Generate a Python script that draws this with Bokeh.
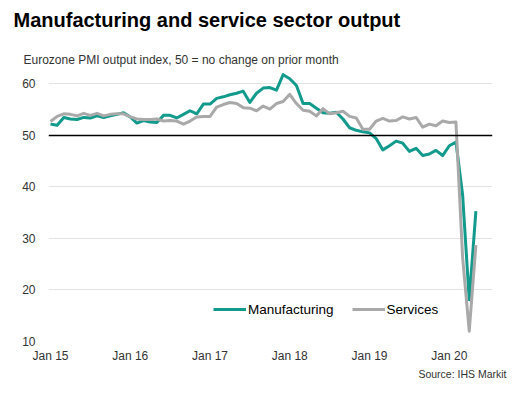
from bokeh.plotting import figure
from bokeh.models import Legend, LegendItem, FixedTicker, Span, ColumnDataSource, Title
from bokeh.embed import file_html
from bokeh.resources import INLINE

# ---- data (monthly, Jan 2015 .. May 2020) ----
months = list(range(65))
manufacturing = [
    52.2, 52.0, 53.5, 53.2, 53.1, 53.5, 53.4, 53.8, 53.5, 53.8, 54.1, 54.4,   # 2015
    53.6, 52.4, 52.9, 52.6, 52.5, 53.9, 53.9, 53.4, 54.1, 54.8, 54.2, 56.1,   # 2016
    56.1, 57.2, 57.5, 57.9, 58.2, 58.6, 56.4, 58.2, 59.2, 59.3, 58.8, 61.8,   # 2017
    61.0, 59.7, 56.2, 56.2, 55.3, 54.4, 54.3, 54.5, 53.2, 51.5, 51.0, 50.7,   # 2018
    50.5, 49.4, 47.2, 48.0, 48.9, 48.5, 46.9, 47.5, 46.1, 46.4, 47.1, 46.1,   # 2019
    48.0, 48.7, 38.5, 18.1, 35.3,                                             # 2020
]
services = [
    52.7, 53.7, 54.2, 54.1, 53.8, 54.3, 53.9, 54.3, 53.8, 54.1, 54.2, 54.2,
    53.6, 53.2, 53.1, 53.1, 53.2, 52.8, 52.9, 52.8, 52.2, 52.8, 53.6, 53.7,
    53.7, 55.5, 56.0, 56.4, 56.2, 55.4, 55.3, 54.8, 55.7, 55.1, 56.2, 56.6,
    58.0, 56.2, 54.9, 54.7, 53.8, 55.2, 54.2, 54.4, 54.7, 53.7, 53.4, 51.2,
    51.2, 52.8, 53.3, 52.8, 52.9, 53.6, 53.2, 53.5, 51.6, 52.2, 51.9, 52.8,
    52.5, 52.6, 26.4, 12.0, 28.7,
]
tick_months = [0, 12, 24, 36, 48, 60]
tick_labels = ["Jan 15", "Jan 16", "Jan 17", "Jan 18", "Jan 19", "Jan 20"]
y_ticks = [10, 20, 30, 40, 50, 60]

TEAL = "#129a8c"
GREY = "#a9a9a9"
TXT = "#333333"
FONT = "Liberation Sans"

src = ColumnDataSource(dict(m=months, man=manufacturing, ser=services))

p = figure(width=524, height=398, output_backend="svg", toolbar_location=None,
           title=None,
           x_range=(-0.3, 66.5), y_range=(10, 63),
           min_border_left=48, min_border_right=32, min_border_top=68, min_border_bottom=57)
p.outline_line_color = None
p.background_fill_color = "white"
p.border_fill_color = "white"

# axes
p.xaxis.ticker = FixedTicker(ticks=tick_months)
p.xaxis.major_label_overrides = {m: l for m, l in zip(tick_months, tick_labels)}
p.yaxis.ticker = FixedTicker(ticks=y_ticks)
for ax in (p.xaxis[0], p.yaxis[0]):
    ax.axis_line_color = None
    ax.major_tick_line_color = None
    ax.minor_tick_line_color = None
    ax.major_tick_out = 0
    ax.major_tick_in = 0
    ax.minor_tick_out = 0
    ax.minor_tick_in = 0
    ax.major_label_text_font = FONT
    ax.major_label_text_font_size = "12px"
    ax.major_label_text_color = TXT
p.xaxis.major_label_standoff = 7
p.yaxis.major_label_standoff = 13

p.xgrid.grid_line_color = None
p.ygrid.ticker = FixedTicker(ticks=[10, 20, 30, 40, 60])
p.ygrid.grid_line_color = "#e3e3e3"
p.ygrid.grid_line_width = 1

p.add_layout(Span(location=50, dimension="width", line_color="black", line_width=1.5))

r_man = p.line("m", "man", source=src, line_color=TEAL, line_width=3, line_join="round")
r_ser = p.line("m", "ser", source=src, line_color=GREY, line_width=3, line_join="round")

legend = Legend(items=[LegendItem(label="Manufacturing", renderers=[r_man]),
                       LegendItem(label="Services", renderers=[r_ser])],
                orientation="horizontal", location=(165, 22),
                glyph_width=33, glyph_height=20, label_standoff=2, spacing=18,
                padding=0, margin=0, border_line_color=None,
                background_fill_alpha=0,
                label_text_font=FONT, label_text_font_size="13.5px",
                label_text_color="black")
p.add_layout(legend)

# titles (nearest the frame first)
p.add_layout(Title(text="Eurozone PMI output index, 50 = no change on prior month",
                   align="left", offset=-25, standoff=2.4, vertical_align="bottom",
                   text_font=FONT, text_font_size="12px", text_font_style="normal",
                   text_color=TXT), "above")
p.add_layout(Title(text=" ", align="left", standoff=16.9, vertical_align="bottom",
                   text_font=FONT, text_font_size="1px"), "above")
p.add_layout(Title(text="Manufacturing and service sector output",
                   align="left", offset=-35, standoff=0, vertical_align="bottom",
                   text_font=FONT, text_font_size="20px", text_font_style="bold",
                   text_color="black"), "above")
p.add_layout(Title(text="Source: IHS Markit", align="right", offset=-14,
                   standoff=4.5, vertical_align="top",
                   text_font=FONT, text_font_size="10.5px", text_font_style="normal",
                   text_color=TXT), "below")

open("out.html", "w").write(file_html(p, INLINE))
